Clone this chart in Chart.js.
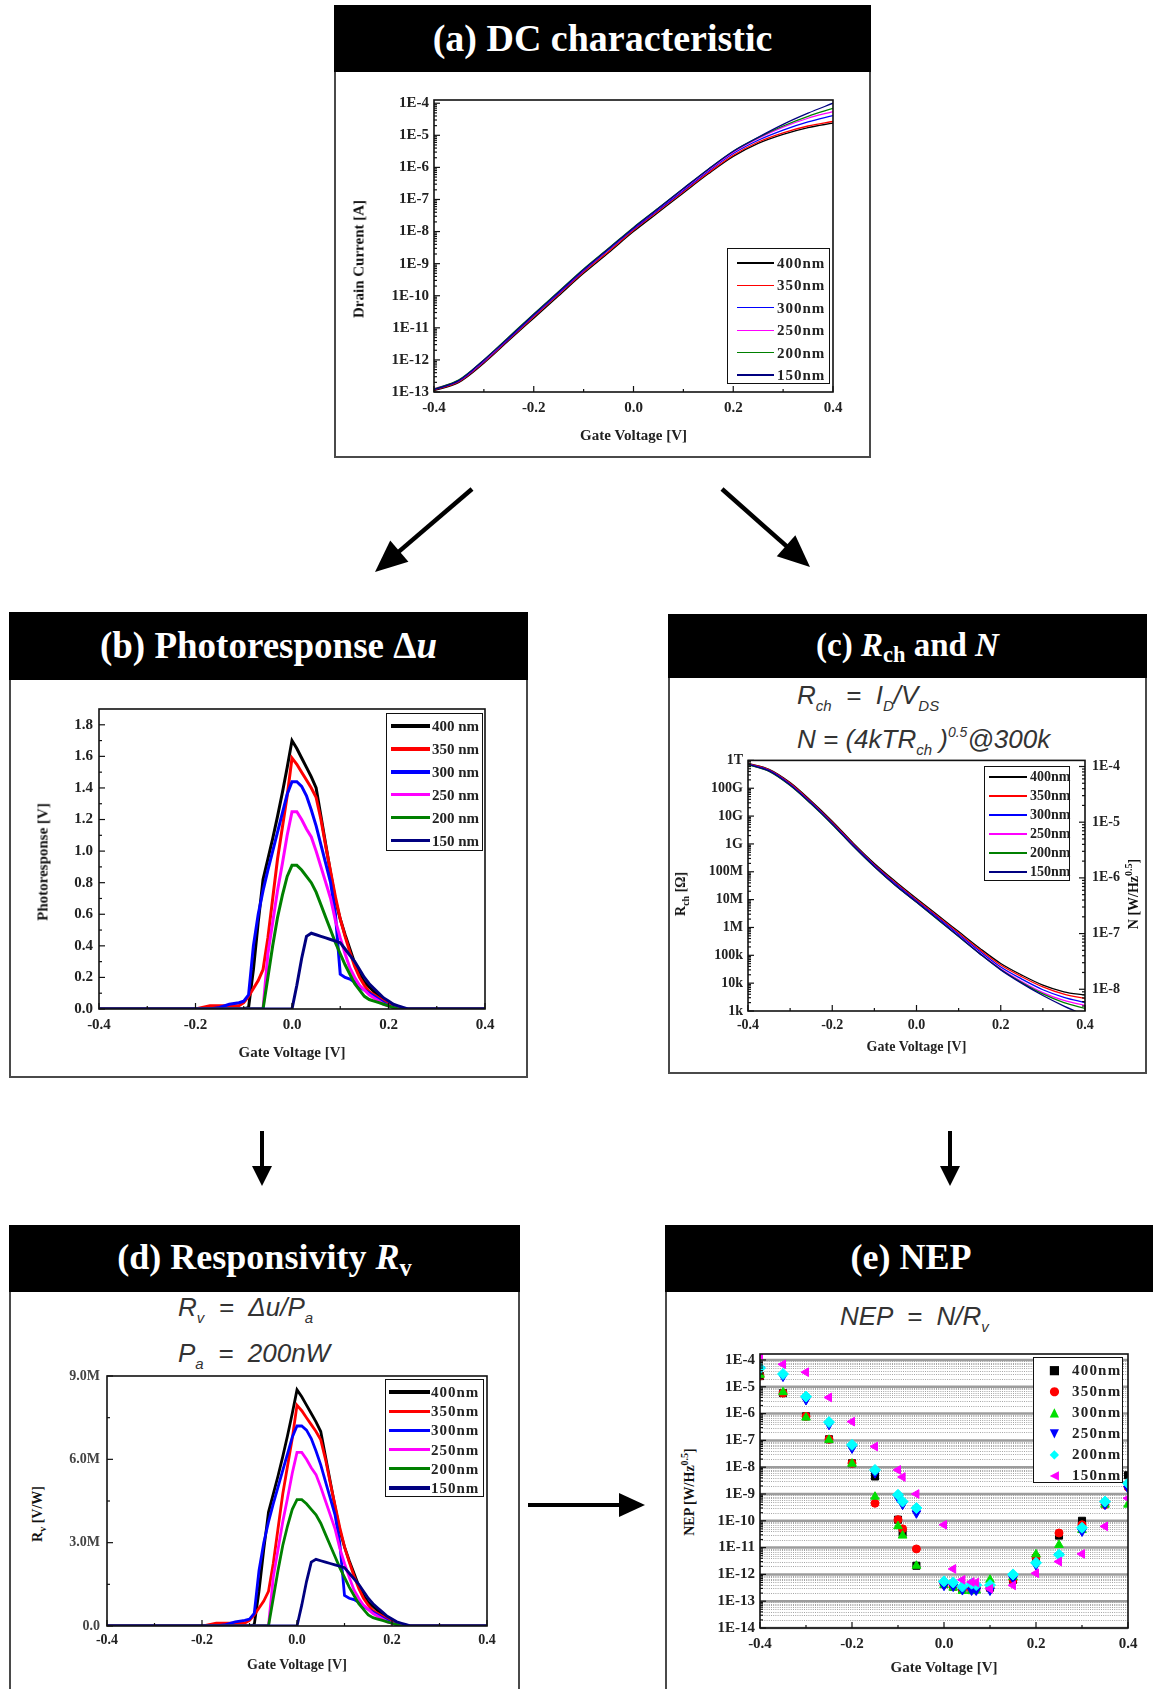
<!DOCTYPE html>
<html>
<head>
<meta charset="utf-8">
<title>Photodetector characterisation</title>
<script src="https://cdn.jsdelivr.net/npm/chart.js@4.4.1/dist/chart.umd.min.js"></script>
<style>
  html, body { margin: 0; padding: 0; background: #fff; }
  body { position: relative; width: 1153px; height: 1689px; overflow: hidden;
         font-family: "Liberation Serif", "Times New Roman", serif; color: #111; }
  .panel { position: absolute; border: 2px solid #4a4a4a; box-sizing: border-box; background: #fff; }
  .head { position: absolute; left: -2px; right: -2px; top: -2px; background: #000; color: #fff;
          font-weight: bold; text-align: center; white-space: nowrap; }
  .head sub { font-size: 0.68em; line-height: 0; vertical-align: -0.28em; font-style: normal; }
  .eq { position: absolute; font-family: "Liberation Sans", Arial, sans-serif; font-style: italic;
        font-size: 26px; line-height: 30px; color: #333; white-space: pre; }
  .eq sub { font-size: 15px; line-height: 0; vertical-align: -7px; }
  .eq sup { font-size: 14px; line-height: 0; vertical-align: 11px; }
  canvas { position: absolute; }
  .ytitle { position: absolute; font-weight: bold; font-size: 15px; white-space: nowrap;
            transform: translate(-50%, -50%) rotate(-90deg); }
  .ytitle sub, .ytitle sup { font-size: 10px; line-height: 0; }
  .legend { position: absolute; border: 1.5px solid #111; box-sizing: border-box; background: #fff;
            font-weight: bold; color: #222; }
  .legend .txt { position: absolute; white-space: nowrap; transform: translateY(-50%); }
  .legend .swatch { position: absolute; }
  .legend .sym { position: absolute; font-family: "DejaVu Sans", sans-serif; transform: translate(-50%, -50%); }
  svg { position: absolute; left: 0; top: 0; }
</style>
</head>
<body>

<div class="panel" style="left:334px;top:5px;width:537px;height:453px">
  <div class="head" style="height:67px;line-height:67px;font-size:38px">(a) DC characteristic</div>
</div>
<div class="panel" style="left:9px;top:612px;width:519px;height:466px">
  <div class="head" style="height:68px;line-height:68px;font-size:37px">(b) Photoresponse Δ<i>u</i></div>
</div>
<div class="panel" style="left:668px;top:614px;width:479px;height:460px">
  <div class="head" style="height:64px;line-height:62px;font-size:33px">(c) <i>R</i><sub>ch</sub> and <i>N</i></div>
</div>
<div class="panel" style="left:9px;top:1225px;width:511px;height:480px">
  <div class="head" style="height:67px;line-height:65px;font-size:36px">(d) Responsivity <i>R</i><sub>v</sub></div>
</div>
<div class="panel" style="left:665px;top:1225px;width:492px;height:480px">
  <div class="head" style="height:67px;line-height:65px;font-size:36px">(e) NEP</div>
</div>

<div class="eq" style="left:797px;top:680px">R<sub>ch</sub>  =  I<sub>D</sub>/V<sub>DS</sub></div>
<div class="eq" style="left:797px;top:724px">N = (4kTR<sub>ch</sub> )<sup>0.5</sup>@300k</div>
<div class="eq" style="left:178px;top:1292px">R<sub>v</sub>  =  Δu/P<sub>a</sub></div>
<div class="eq" style="left:178px;top:1338px">P<sub>a</sub>  =  200nW</div>
<div class="eq" style="left:840px;top:1301px">NEP  =  N/R<sub>v</sub></div>

<canvas id="dcChart" width="520" height="370" style="left:340px;top:80px"></canvas>
<canvas id="prChart" width="460" height="380" style="left:50px;top:690px"></canvas>
<canvas id="rchChart" width="450" height="320" style="left:690px;top:745px"></canvas>
<canvas id="rvChart" width="460" height="325" style="left:50px;top:1360px"></canvas>
<canvas id="nepChart" width="450" height="345" style="left:700px;top:1340px"></canvas>

<div class="ytitle" style="left:359px;top:259px">Drain Current [A]</div>
<div class="ytitle" style="left:43px;top:862px">Photoresponse [V]</div>
<div class="ytitle" style="left:681px;top:894px;font-size:14px">R<sub>ch</sub> [Ω]</div>
<div class="ytitle" style="left:1134px;top:894px;font-size:14px">N [W/Hz<sup>0.5</sup>]</div>
<div class="ytitle" style="left:38px;top:1514px;font-size:14px">R<sub>v</sub> [V/W]</div>
<div class="ytitle" style="left:690px;top:1492px;font-size:14px">NEP [W/Hz<sup>0.5</sup>]</div>

<svg id="arrows" width="1153" height="1689"></svg>

<script>
// ---- series ----
const waveLabels = ['400nm', '350nm', '300nm', '250nm', '200nm', '150nm'];
const lineColors = ['#000000', '#ff0000', '#0000ff', '#ff00ff', '#008000', '#000080'];
const nepColors = ['#000000', '#ff0000', '#00e000', '#0000ff', '#00ffff', '#ff00ff'];

// gate sweep used by the DC and channel-resistance curves
const sweepVg = [-0.4, -0.35, -0.3, -0.25, -0.2, -0.15, -0.1, -0.05, 0, 0.05, 0.1, 0.15, 0.2, 0.25, 0.3, 0.35, 0.4];

// (a) drain current [A]
const id400 = [1.1e-13, 2.0e-13, 7.9e-13, 4.0e-12, 2.0e-11, 1.0e-10, 5.0e-10, 2.2e-9, 1.0e-8, 4.0e-8, 1.6e-7, 6.3e-7, 2.2e-6, 5.6e-6, 1.07e-5, 1.74e-5, 2.4e-5];
const id350 = [1.15e-13, 2.1e-13, 8.5e-13, 4.3e-12, 2.2e-11, 1.1e-10, 5.5e-10, 2.4e-9, 1.1e-8, 4.4e-8, 1.75e-7, 6.8e-7, 2.4e-6, 6.2e-6, 1.2e-5, 1.95e-5, 2.7e-5];
const id300 = [1.2e-13, 2.2e-13, 9.0e-13, 4.6e-12, 2.4e-11, 1.2e-10, 6.0e-10, 2.7e-9, 1.2e-8, 4.8e-8, 1.9e-7, 7.6e-7, 2.7e-6, 7.0e-6, 1.45e-5, 2.6e-5, 4.1e-5];
const id250 = [1.25e-13, 2.3e-13, 9.5e-13, 5.0e-12, 2.6e-11, 1.3e-10, 6.5e-10, 2.9e-9, 1.3e-8, 5.2e-8, 2.1e-7, 8.3e-7, 3.0e-6, 8.0e-6, 1.8e-5, 3.4e-5, 5.5e-5];
const id200 = [1.25e-13, 2.4e-13, 1.0e-12, 5.2e-12, 2.7e-11, 1.35e-10, 6.8e-10, 3.0e-9, 1.35e-8, 5.4e-8, 2.2e-7, 8.8e-7, 3.2e-6, 8.5e-6, 1.95e-5, 3.9e-5, 6.9e-5];
const id150 = [1.2e-13, 2.3e-13, 1.0e-12, 5.0e-12, 2.6e-11, 1.3e-10, 6.6e-10, 2.9e-9, 1.3e-8, 5.3e-8, 2.2e-7, 8.8e-7, 3.2e-6, 8.7e-6, 2.2e-5, 4.9e-5, 1.0e-4];

// (b) photoresponse [V]
const prVg = [-0.4, -0.3, -0.2, -0.17, -0.15, -0.13, -0.11, -0.1, -0.09, -0.08, -0.07, -0.06, -0.05, -0.04, -0.03, -0.02, -0.01,
  0, 0.01, 0.02, 0.03, 0.04, 0.05, 0.06, 0.07, 0.08, 0.09, 0.1, 0.11, 0.12, 0.13, 0.14, 0.15, 0.16, 0.17, 0.18, 0.19,
  0.2, 0.21, 0.22, 0.23, 0.24, 0.25, 0.3, 0.4];
const pr400 = [0, 0, 0, 0, 0, 0, 0, 0, 0.01, 0.25, 0.55, 0.82, 0.95, 1.08, 1.22, 1.37, 1.53,
  1.70, 1.65, 1.59, 1.53, 1.47, 1.40, 1.22, 1.04, 0.86, 0.69, 0.57, 0.47, 0.38, 0.29, 0.22, 0.17, 0.14, 0.11, 0.08, 0.05,
  0.03, 0.02, 0.01, 0, 0, 0, 0, 0];
const pr350 = [0, 0, 0, 0.02, 0.02, 0.02, 0.02, 0.04, 0.08, 0.13, 0.18, 0.25, 0.45, 0.7, 0.95, 1.15, 1.35,
  1.59, 1.55, 1.50, 1.45, 1.40, 1.34, 1.2, 1.03, 0.87, 0.71, 0.57, 0.46, 0.36, 0.27, 0.2, 0.15, 0.11, 0.09, 0.07, 0.05,
  0.03, 0.02, 0.01, 0, 0, 0, 0, 0];
const pr300 = [0, 0, 0, 0, 0.01, 0.03, 0.04, 0.05, 0.09, 0.4, 0.6, 0.75, 0.88, 1.0, 1.12, 1.24, 1.36,
  1.44, 1.44, 1.41, 1.35, 1.26, 1.16, 1.04, 0.92, 0.8, 0.6, 0.22, 0.2, 0.19, 0.17, 0.14, 0.12, 0.1, 0.08, 0.06, 0.04,
  0.02, 0.01, 0, 0, 0, 0, 0, 0];
const pr250 = [0, 0, 0, 0, 0, 0, 0, 0, 0, 0, 0, 0, 0.35, 0.55, 0.75, 0.92, 1.1,
  1.25, 1.25, 1.2, 1.14, 1.09, 1.0, 0.9, 0.8, 0.7, 0.56, 0.45, 0.35, 0.26, 0.2, 0.15, 0.12, 0.09, 0.07, 0.05, 0.03,
  0.02, 0.01, 0, 0, 0, 0, 0, 0];
const pr200 = [0, 0, 0, 0, 0, 0, 0, 0, 0, 0, 0, 0, 0.2, 0.4, 0.58, 0.72, 0.84,
  0.91, 0.91, 0.88, 0.84, 0.8, 0.74, 0.66, 0.58, 0.5, 0.42, 0.35, 0.28, 0.22, 0.16, 0.12, 0.08, 0.06, 0.05, 0.04, 0.03,
  0.02, 0.01, 0, 0, 0, 0, 0, 0];
const pr150 = [0, 0, 0, 0, 0, 0, 0, 0, 0, 0, 0, 0, 0, 0, 0, 0, 0,
  0, 0.15, 0.32, 0.46, 0.48, 0.47, 0.46, 0.45, 0.44, 0.43, 0.42, 0.38, 0.34, 0.3, 0.25, 0.2, 0.16, 0.13, 0.1, 0.07,
  0.05, 0.03, 0.02, 0.01, 0, 0, 0, 0];

// (c) channel resistance [ohm]
const rch400 = [7.8e11, 4.8e11, 1.6e11, 3.5e10, 6.6e9, 1.07e9, 2.0e8, 4.5e7, 1.1e7, 2.8e6, 7.1e5, 1.8e5, 5.1e4, 1.95e4, 8.5e3, 4.9e3, 3.7e3];
const rch350 = [7.6e11, 4.6e11, 1.5e11, 3.2e10, 6.0e9, 9.8e8, 1.8e8, 4.0e7, 9.8e6, 2.5e6, 6.3e5, 1.6e5, 4.5e4, 1.7e4, 7.3e3, 4.0e3, 2.8e3];
const rch300 = [7.4e11, 4.4e11, 1.4e11, 3.0e10, 5.6e9, 9.2e8, 1.7e8, 3.7e7, 9.0e6, 2.3e6, 5.6e5, 1.4e5, 3.8e4, 1.4e4, 5.8e3, 3.1e3, 2.0e3];
const rch250 = [7.2e11, 4.1e11, 1.3e11, 2.8e10, 5.2e9, 8.5e8, 1.55e8, 3.3e7, 8.2e6, 2.0e6, 4.9e5, 1.2e5, 3.3e4, 1.15e4, 4.6e3, 2.4e3, 1.6e3];
const rch200 = [7.0e11, 4.0e11, 1.25e11, 2.7e10, 5.0e9, 8.2e8, 1.5e8, 3.2e7, 8.0e6, 1.95e6, 4.7e5, 1.15e5, 3.1e4, 1.05e4, 4.1e3, 2.0e3, 1.25e3];
const rch150 = [7.2e11, 4.2e11, 1.3e11, 2.8e10, 5.2e9, 8.4e8, 1.55e8, 3.3e7, 8.2e6, 2.0e6, 4.8e5, 1.15e5, 3.0e4, 9.8e3, 3.6e3, 1.5e3, 7.0e2];

// (d) responsivity = photoresponse / absorbed power
const Pa = 200e-9;

// (e) noise equivalent power [W/Hz^0.5]
const nepVg = [-0.4, -0.35, -0.3, -0.25, -0.2, -0.15, -0.1, -0.09, -0.06, 0, 0.02, 0.04, 0.06, 0.07, 0.1, 0.15, 0.2, 0.25, 0.3, 0.35, 0.4];
const nep400 = [2.5e-5, 5.8e-6, 7.9e-7, 1.1e-7, 1.4e-8, 4.5e-9, 1.1e-10, 3.5e-11, 2.1e-12, 4.5e-13, 3.5e-13, 2.8e-13, 2.6e-13, 2.8e-13, 3.2e-13, 6.3e-13, 4.0e-12, 2.8e-11, 1.0e-10, 4.5e-10, 5.0e-9];
const nep350 = [2.5e-5, 5.8e-6, 7.9e-7, 1.1e-7, 1.4e-8, 4.5e-10, 1.1e-10, 5.0e-11, 8.9e-12, 4.2e-13, 3.5e-13, 2.8e-13, 2.8e-13, 3.2e-13, 3.2e-13, 6.3e-13, 4.5e-12, 3.5e-11, 7.1e-11, 4.0e-10, 1.8e-9];
const nep300 = [2.8e-5, 6.3e-6, 7.1e-7, 1.05e-7, 1.35e-8, 7.9e-10, 6.3e-11, 2.8e-11, 2.1e-12, 4.0e-13, 3.2e-13, 2.4e-13, 2.4e-13, 2.5e-13, 6.3e-13, 7.9e-13, 5.6e-12, 1.26e-11, 4.5e-11, 4.0e-10, 4.0e-10];
const nep250 = [4.5e-5, 2.4e-5, 3.2e-6, 3.8e-7, 5.0e-8, 6.0e-9, 7.1e-10, 4.0e-10, 1.9e-10, 3.8e-13, 3.5e-13, 2.6e-13, 2.5e-13, 2.5e-13, 2.5e-13, 7.1e-13, 2.2e-12, 5.0e-12, 4.0e-11, 4.0e-10, 1.6e-9];
const nep200 = [5.0e-5, 3.0e-5, 4.3e-6, 4.8e-7, 6.8e-8, 7.9e-9, 9.3e-10, 5.2e-10, 3.0e-10, 5.5e-13, 5.0e-13, 3.5e-13, 4.5e-13, 4.0e-13, 4.0e-13, 1.0e-12, 2.7e-12, 5.4e-12, 5.5e-11, 5.2e-10, 2.5e-9];
const nep150 = [1.55e-4, 6.9e-5, 3.5e-5, 4.0e-6, 5.0e-7, 5.9e-8, 7.9e-9, 4.3e-9, 1.0e-9, 7.1e-11, 1.6e-12, 6.3e-13, 5.2e-13, 5.0e-13, 2.9e-13, 3.9e-13, 1.1e-12, 3.0e-12, 5.8e-12, 6.2e-11, 6.9e-10];
const nepMarkers = [
  { style: 'rect', radius: 5, rotation: 0 },
  { style: 'circle', radius: 4, rotation: 0 },
  { style: 'triangle', radius: 5, rotation: 0 },
  { style: 'triangle', radius: 5, rotation: 180 },
  { style: 'rectRot', radius: 5.5, rotation: 0 },
  { style: 'triangle', radius: 5, rotation: -90 }
];
const nepSymbols = ['■', '●', '▲', '▼', '◆', '◀'];

// ---- ticks ----
const vgTicks = [-0.4, -0.2, 0, 0.2, 0.4];
const vgTickLabels = ['-0.4', '-0.2', '0.0', '0.2', '0.4'];
const vgMinor = [-0.3, -0.1, 0.1, 0.3];
const idTicks = [1e-4, 1e-5, 1e-6, 1e-7, 1e-8, 1e-9, 1e-10, 1e-11, 1e-12, 1e-13];
const idTickLabels = ['1E-4', '1E-5', '1E-6', '1E-7', '1E-8', '1E-9', '1E-10', '1E-11', '1E-12', '1E-13'];
const prTicks = [0, 0.2, 0.4, 0.6, 0.8, 1.0, 1.2, 1.4, 1.6, 1.8];
const prTickLabels = ['0.0', '0.2', '0.4', '0.6', '0.8', '1.0', '1.2', '1.4', '1.6', '1.8'];
const prMinor = [0.1, 0.3, 0.5, 0.7, 0.9, 1.1, 1.3, 1.5, 1.7];
const rchTicks = [1e3, 1e4, 1e5, 1e6, 1e7, 1e8, 1e9, 1e10, 1e11, 1e12];
const rchTickLabels = ['1k', '10k', '100k', '1M', '10M', '100M', '1G', '10G', '100G', '1T'];
const noiseTicks = [1e-4, 1e-5, 1e-6, 1e-7, 1e-8];
const noiseTickLabels = ['1E-4', '1E-5', '1E-6', '1E-7', '1E-8'];
const rvTicks = [0, 3e6, 6e6, 9e6];
const rvTickLabels = ['0.0', '3.0M', '6.0M', '9.0M'];
const rvMinor = [1.5e6, 4.5e6, 7.5e6];
const nepTicks = [1e-4, 1e-5, 1e-6, 1e-7, 1e-8, 1e-9, 1e-10, 1e-11, 1e-12, 1e-13, 1e-14];
const nepTickLabels = ['1E-4', '1E-5', '1E-6', '1E-7', '1E-8', '1E-9', '1E-10', '1E-11', '1E-12', '1E-13', '1E-14'];

// thermal noise axis limits follow N = sqrt(4kT R) at 300 K
const fourKT = 4 * 1.380649e-23 * 300;
const noiseMin = Math.sqrt(fourKT * 1e3);
const noiseMax = Math.sqrt(fourKT * 1e12);

function logMinors(lo, hi) {
  const out = [];
  for (let e = Math.floor(Math.log10(lo)); e <= Math.ceil(Math.log10(hi)); e++) {
    for (let k = 2; k <= 9; k++) {
      const v = k * Math.pow(10, e);
      if (v > lo && v < hi) out.push(v);
    }
  }
  return out;
}

// ---- chart helpers ----
const serif = '"Liberation Serif", "Times New Roman", serif';
Chart.defaults.font.family = serif;
Chart.defaults.font.weight = 'bold';
Chart.defaults.color = '#222';

// frame around the plot area, inward tick marks and the NEP decade grid
const framePlugin = {
  id: 'frame',
  beforeDatasetsDraw(chart, args, opts) {
    if (!opts.grid) return;
    const { ctx, chartArea: a } = chart;
    const s = chart.scales.y;
    const hline = y => { ctx.beginPath(); ctx.moveTo(a.left, y); ctx.lineTo(a.right, y); ctx.stroke(); };
    ctx.save();
    ctx.lineWidth = 1;
    ctx.strokeStyle = '#a4a4a4';
    ctx.setLineDash([1, 1.2]);
    opts.grid.minor.forEach(v => hline(Math.round(s.getPixelForValue(v)) + 0.5));
    ctx.setLineDash([]);
    ctx.lineWidth = 2.5;
    ctx.strokeStyle = '#9c9c9c';
    opts.grid.major.forEach(v => hline(s.getPixelForValue(v)));
    ctx.restore();
  },
  afterDatasetsDraw(chart, args, opts) {
    const { ctx, chartArea: a } = chart;
    const tick = (s, v, len) => {
      const p = s.getPixelForValue(v);
      ctx.beginPath();
      if (s.isHorizontal()) { ctx.moveTo(p, a.bottom); ctx.lineTo(p, a.bottom - len); }
      else if (s.position === 'right') { ctx.moveTo(a.right, p); ctx.lineTo(a.right - len, p); }
      else { ctx.moveTo(a.left, p); ctx.lineTo(a.left + len, p); }
      ctx.stroke();
    };
    ctx.save();
    ctx.strokeStyle = '#111';
    ctx.lineWidth = 1.2;
    (opts.marks || []).forEach(m => {
      const s = chart.scales[m.id];
      m.major.forEach(v => tick(s, v, 6));
      (m.minor || []).forEach(v => tick(s, v, 3));
    });
    ctx.lineWidth = 1.6;
    ctx.strokeRect(a.left, a.top, a.right - a.left, a.bottom - a.top);
    ctx.restore();
  }
};
Chart.register(framePlugin);

function gateAxis(height, tickPad, titlePad, fs) {
  return {
    type: 'linear', min: -0.4, max: 0.4,
    grid: { display: false, drawTicks: false }, border: { display: false },
    afterBuildTicks: s => { s.ticks = vgTicks.map(v => ({ value: v })); },
    afterFit: s => { s.height = height; },
    ticks: { autoSkip: false, maxRotation: 0, padding: tickPad, font: { size: fs },
             callback: (v, i) => vgTickLabels[i] },
    title: { display: true, text: 'Gate Voltage [V]', font: { size: fs }, padding: { top: 0, bottom: titlePad } }
  };
}

function valueAxis(o) {
  return {
    type: o.type, min: o.min, max: o.max, position: o.position || 'left',
    grid: { display: false, drawTicks: false }, border: { display: false },
    afterBuildTicks: s => { s.ticks = o.ticks.map(v => ({ value: v })); },
    afterFit: s => { s.width = o.width; },
    ticks: { autoSkip: false, padding: o.pad, font: { size: o.fs }, color: o.color || '#222',
             callback: (v, i) => o.labels[i] }
  };
}

function lineSets(xs, series, width, smooth) {
  return series.map((ys, i) => ({
    label: waveLabels[i],
    data: xs.map((x, j) => ({ x: x, y: ys[j] })),
    borderColor: lineColors[i],
    backgroundColor: lineColors[i],
    borderWidth: width,
    pointRadius: 0,
    tension: smooth ? 0.4 : 0,
    cubicInterpolationMode: smooth ? 'monotone' : 'default',
    order: series.length - i
  }));
}

function baseOptions(padding, scales, frame) {
  return {
    responsive: false, animation: false, devicePixelRatio: 1,
    layout: { padding: padding },
    scales: scales,
    plugins: { legend: { display: false }, tooltip: { enabled: false }, frame: frame }
  };
}

// (a) DC characteristic
new Chart(document.getElementById('dcChart'), {
  type: 'line',
  data: { datasets: lineSets(sweepVg, [id400, id350, id300, id250, id200, id150], 1.3, true) },
  options: baseOptions({ left: 0, top: 20, right: 27, bottom: 0 }, {
    x: gateAxis(58, 7, 5, 15),
    y: valueAxis({ type: 'logarithmic', min: 1e-13, max: 1.26e-4, ticks: idTicks, labels: idTickLabels,
                   width: 94, pad: 5, fs: 15 })
  }, { marks: [
    { id: 'x', major: vgTicks, minor: vgMinor },
    { id: 'y', major: idTicks, minor: logMinors(1e-13, 1.26e-4) }
  ] })
});

// (b) photoresponse
new Chart(document.getElementById('prChart'), {
  type: 'line',
  data: { datasets: lineSets(prVg, [pr400, pr350, pr300, pr250, pr200, pr150], 3, false) },
  options: baseOptions({ left: 0, top: 19, right: 25, bottom: 0 }, {
    x: gateAxis(61, 7, 8, 15),
    y: valueAxis({ type: 'linear', min: 0, max: 1.9, ticks: prTicks, labels: prTickLabels,
                   width: 49, pad: 6, fs: 15 })
  }, { marks: [
    { id: 'x', major: vgTicks, minor: vgMinor },
    { id: 'y', major: prTicks, minor: prMinor }
  ] })
});

// (c) channel resistance with the thermal noise scale on the right
new Chart(document.getElementById('rchChart'), {
  type: 'line',
  data: { datasets: lineSets(sweepVg, [rch400, rch350, rch300, rch250, rch200, rch150], 1.3, true) },
  options: baseOptions({ left: 0, top: 15, right: 15, bottom: 0 }, {
    x: gateAxis(54, 6, 9, 14),
    y: valueAxis({ type: 'logarithmic', min: 1e3, max: 1e12, ticks: rchTicks, labels: rchTickLabels,
                   width: 58, pad: 5, fs: 14 }),
    y2: valueAxis({ type: 'logarithmic', min: noiseMin, max: noiseMax, position: 'right',
                    ticks: noiseTicks, labels: noiseTickLabels, width: 40, pad: 7, fs: 14 })
  }, { marks: [
    { id: 'x', major: vgTicks, minor: vgMinor },
    { id: 'y', major: rchTicks, minor: logMinors(1e3, 1e12) },
    { id: 'y2', major: noiseTicks, minor: logMinors(noiseMin, noiseMax) }
  ] })
});

// (d) responsivity
const rvSeries = [pr400, pr350, pr300, pr250, pr200, pr150].map(s => s.map(v => v / Pa));
new Chart(document.getElementById('rvChart'), {
  type: 'line',
  data: { datasets: lineSets(prVg, rvSeries, 2.8, false) },
  options: baseOptions({ left: 0, top: 16, right: 23, bottom: 0 }, {
    x: gateAxis(59, 6, 11, 14),
    y: valueAxis({ type: 'linear', min: 0, max: 9e6, ticks: rvTicks, labels: rvTickLabels,
                   width: 57, pad: 7, fs: 14, color: '#444' })
  }, { marks: [
    { id: 'x', major: vgTicks, minor: vgMinor },
    { id: 'y', major: rvTicks, minor: rvMinor }
  ] })
});

// (e) NEP scatter
const nepMax = 1.67e-4;
const nepSeries = [nep400, nep350, nep300, nep250, nep200, nep150];
new Chart(document.getElementById('nepChart'), {
  type: 'scatter',
  data: {
    datasets: nepSeries.map((ys, i) => ({
      label: waveLabels[i],
      data: nepVg.map((x, j) => ({ x: x, y: ys[j] })),
      pointStyle: nepMarkers[i].style,
      pointRadius: nepMarkers[i].radius,
      rotation: nepMarkers[i].rotation,
      pointBackgroundColor: nepColors[i],
      pointBorderColor: nepColors[i],
      pointBorderWidth: 1,
      showLine: false,
      order: nepSeries.length - i
    }))
  },
  options: baseOptions({ left: 0, top: 14, right: 22, bottom: 0 }, {
    x: gateAxis(57, 7, 8, 15),
    y: valueAxis({ type: 'logarithmic', min: 1e-14, max: nepMax, ticks: nepTicks, labels: nepTickLabels,
                   width: 60, pad: 5, fs: 15 })
  }, {
    grid: { major: nepTicks, minor: logMinors(1e-14, nepMax) },
    marks: [
      { id: 'x', major: vgTicks, minor: vgMinor },
      { id: 'y', major: nepTicks, minor: logMinors(1e-14, nepMax) }
    ]
  })
});

// ---- legends ----
function legend(box, names, o) {
  const el = document.createElement('div');
  el.className = 'legend';
  Object.assign(el.style, { left: box[0] + 'px', top: box[1] + 'px', width: box[2] + 'px', height: box[3] + 'px',
                            fontSize: o.fs + 'px', letterSpacing: (o.ls || 0) + 'px' });
  names.forEach((n, i) => {
    const y = o.first + i * o.step;
    const mark = document.createElement('div');
    if (o.symbols) {
      mark.className = 'sym';
      mark.textContent = o.symbols[i];
      Object.assign(mark.style, { left: o.lx + 'px', top: y + 'px', color: o.colors[i], fontSize: '12px' });
    } else {
      mark.className = 'swatch';
      Object.assign(mark.style, { left: o.lx + 'px', top: (y - o.th / 2) + 'px', width: o.lw + 'px',
                                  height: o.th + 'px', background: o.colors[i] });
    }
    const t = document.createElement('div');
    t.className = 'txt';
    t.textContent = n;
    Object.assign(t.style, { left: o.tx + 'px', top: y + 'px' });
    el.appendChild(mark);
    el.appendChild(t);
  });
  document.body.appendChild(el);
}

legend([727, 248, 103, 136], waveLabels,
  { colors: lineColors, lx: 9, lw: 37, th: 1.4, tx: 49, first: 14, step: 22.4, fs: 15, ls: 1 });
legend([386, 713, 97, 138], waveLabels.map(n => n.replace('nm', ' nm')),
  { colors: lineColors, lx: 4, lw: 39, th: 3.5, tx: 45, first: 12, step: 22.9, fs: 15 });
legend([984, 766, 86, 115], waveLabels,
  { colors: lineColors, lx: 4, lw: 38, th: 1.4, tx: 45, first: 10, step: 19, fs: 14 });
legend([385, 1379, 99, 118], waveLabels,
  { colors: lineColors, lx: 3, lw: 41, th: 3.3, tx: 45, first: 12, step: 19.2, fs: 15, ls: 1 });
legend([1033, 1357, 90, 126], waveLabels,
  { colors: nepColors, symbols: nepSymbols, lx: 21, tx: 38, first: 12, step: 20.9, fs: 15, ls: 1.2 });

// ---- flow arrows between panels ----
const svg = document.getElementById('arrows');
function arrow(x1, y1, x2, y2, w, headLen, headW) {
  const ns = 'http://www.w3.org/2000/svg';
  const ang = Math.atan2(y2 - y1, x2 - x1);
  const bx = x2 - headLen * Math.cos(ang), by = y2 - headLen * Math.sin(ang);
  const ln = document.createElementNS(ns, 'line');
  ln.setAttribute('x1', x1); ln.setAttribute('y1', y1);
  ln.setAttribute('x2', bx + Math.cos(ang)); ln.setAttribute('y2', by + Math.sin(ang));
  ln.setAttribute('stroke', '#000'); ln.setAttribute('stroke-width', w);
  const hx = Math.sin(ang) * headW / 2, hy = Math.cos(ang) * headW / 2;
  const head = document.createElementNS(ns, 'polygon');
  head.setAttribute('points', `${x2},${y2} ${bx + hx},${by - hy} ${bx - hx},${by + hy}`);
  head.setAttribute('fill', '#000');
  svg.appendChild(ln);
  svg.appendChild(head);
}
arrow(472, 489, 375, 572, 4.5, 32, 28);
arrow(722, 489, 810, 567, 4.5, 32, 28);
arrow(262, 1131, 262, 1186, 4, 20, 20);
arrow(950, 1131, 950, 1186, 4, 20, 20);
arrow(528, 1505, 645, 1505, 4, 26, 24);
</script>
</body>
</html>
